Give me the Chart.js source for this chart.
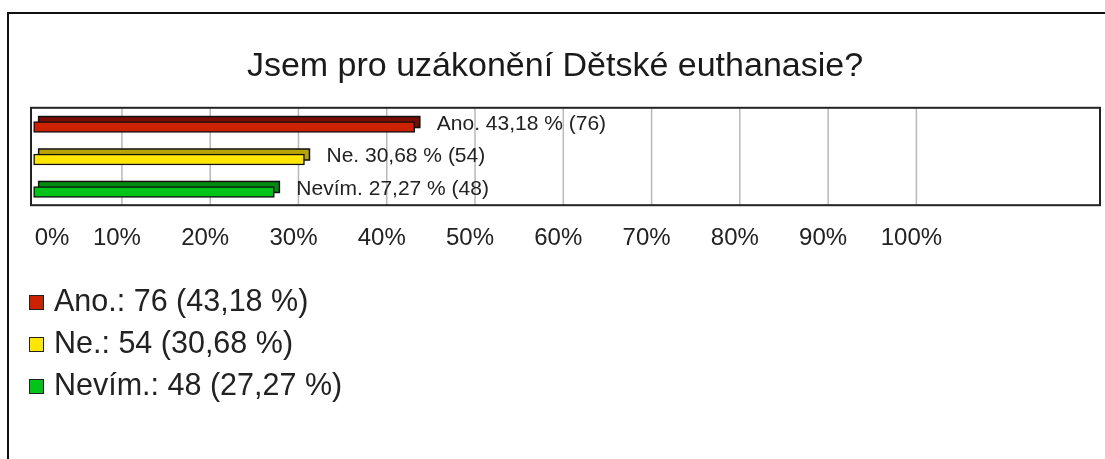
<!DOCTYPE html>
<html>
<head>
<meta charset="utf-8">
<script src="https://cdn.jsdelivr.net/npm/chart.js@4/dist/chart.umd.min.js"></script>
<style>
  body { margin: 0; background: #fff; font-family: "Liberation Sans", Arial, sans-serif; }
  #wrap { position: relative; width: 1105px; height: 459px; overflow: hidden; }
  #frame { position: absolute; left: 7px; top: 12px; right: -10px; bottom: -10px;
           border-top: 2px solid #111; border-left: 2px solid #111; }
  #legend { position: absolute; left: 29px; top: 279px; color: #222; font-size: 30.5px; }
  .row { height: 42px; line-height: 42px; white-space: nowrap; }
  .sw { display: inline-block; width: 13px; height: 13px; border: 1.5px solid #222;
        margin-right: 10px; vertical-align: 1px; }
</style>
</head>
<body>
<div id="wrap">
  <div id="frame"></div>
  <canvas id="surveyChart"></canvas>
  <div id="legend"></div>
</div>
<script>
const categories = ['Ano', 'Ne', 'Nevím'];
const counts = [76, 54, 48];
const percents = [43.18, 30.68, 27.27];
const tickValues = [0, 10, 20, 30, 40, 50, 60, 70, 80, 90, 100];

const frontColors = ['#cc2200', '#ffe600', '#00c41a'];
const topColors = ['#7a0c00', '#b8a400', '#008a10'];

const fmt = v => v.toFixed(2).replace('.', ',');

// legend below the axis, one item per line
const legendEl = document.getElementById('legend');
categories.forEach((c, i) => {
    const row = document.createElement('div');
    row.className = 'row';
    const sw = document.createElement('span');
    sw.className = 'sw';
    sw.style.background = frontColors[i];
    row.appendChild(sw);
    row.appendChild(document.createTextNode(c + '.: ' + counts[i] + ' (' + fmt(percents[i]) + ' %)'));
    legendEl.appendChild(row);
});

// the plot box sits 3px above the chart area so the 3d bars look centred
const BOX_SHIFT = 3;

// gridlines + fake 3d depth behind each bar, then value labels + frame
const barDeco = {
    id: 'barDeco',
    beforeDatasetsDraw(chart) {
        const ctx = chart.ctx;
        const a = chart.chartArea;
        const xs = chart.scales.x;
        ctx.save();
        ctx.strokeStyle = '#b8b8b8';
        ctx.lineWidth = 1.5;
        tickValues.forEach(v => {
            if (v === 0) return;
            const px = xs.getPixelForValue(v);
            ctx.beginPath();
            ctx.moveTo(px, a.top - BOX_SHIFT);
            ctx.lineTo(px, a.bottom - BOX_SHIFT);
            ctx.stroke();
        });
        const meta = chart.getDatasetMeta(0);
        meta.data.forEach((bar, i) => {
            const p = bar.getProps(['x', 'y', 'base', 'height'], true);
            const top = p.y - p.height / 2 - 5;
            ctx.fillStyle = topColors[i];
            ctx.strokeStyle = '#111';
            ctx.lineWidth = 1.5;
            ctx.fillRect(p.base + 5, top, p.x - p.base, p.height);
            ctx.strokeRect(p.base + 5, top, p.x - p.base, p.height);
        });
        ctx.restore();
    },
    afterDatasetsDraw(chart) {
        const ctx = chart.ctx;
        const meta = chart.getDatasetMeta(0);
        ctx.save();
        ctx.font = '21px "Liberation Sans", Arial, sans-serif';
        ctx.fillStyle = '#222';
        ctx.textBaseline = 'middle';
        meta.data.forEach((bar, i) => {
            const txt = categories[i] + '. ' + fmt(percents[i]) + ' % (' + counts[i] + ')';
            ctx.fillText(txt, bar.x + 22, bar.y - 3);
        });
        const a = chart.chartArea;
        ctx.strokeStyle = '#222';
        ctx.lineWidth = 2;
        ctx.strokeRect(a.left, a.top - BOX_SHIFT, a.right - a.left, a.bottom - a.top);
        ctx.restore();
    }
};

const ctxSurvey = document.getElementById('surveyChart').getContext('2d');
const surveyChart = new Chart(ctxSurvey, {
    type: 'bar',
    data: {
        labels: categories,
        datasets: [{
            label: 'Jsem pro',
            data: percents,
            backgroundColor: frontColors,
            borderColor: '#111',
            borderWidth: 1.5,
            borderSkipped: false,
            barThickness: 11
        }]
    },
    options: {
        indexAxis: 'y',
        responsive: true,
        maintainAspectRatio: false,
        animation: false,
        layout: { padding: { top: 34, left: 10, right: 5, bottom: 190 } },
        plugins: {
            legend: { display: false },
            tooltip: { enabled: false },
            title: {
                display: true,
                text: 'Jsem pro uzákonění Dětské euthanasie?',
                color: '#1a1a1a',
                font: { size: 34, weight: 'normal', family: '"Liberation Sans", Arial, sans-serif' },
                padding: { top: 12, bottom: 24 }
            }
        },
        scales: {
            x: {
                min: -0.3,
                max: 120.8,
                afterBuildTicks: axis => { axis.ticks = tickValues.map(v => ({ value: v })); },
                afterFit: axis => { axis.paddingLeft = 0; axis.paddingRight = 0; },
                grid: { display: false, drawTicks: false },
                border: { display: false },
                ticks: {
                    padding: 16,
                    labelOffset: -5,
                    maxRotation: 0,
                    autoSkip: false,
                    color: '#222',
                    font: { size: 24, family: '"Liberation Sans", Arial, sans-serif' },
                    callback: v => (v === 0 ? '       ' : '') + v + '%'
                }
            },
            y: {
                display: true,
                grid: { display: false },
                border: { display: false },
                ticks: { display: false },
                afterFit: axis => { axis.width = 21; }
            }
        }
    },
    plugins: [barDeco]
});
</script>
</body>
</html>
